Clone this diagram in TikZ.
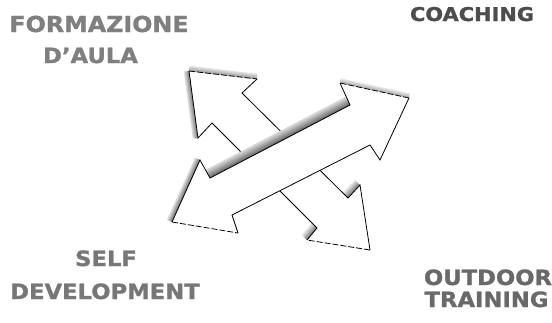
\documentclass[tikz,border=0pt]{standalone}
\usepackage{fontspec}
\setmainfont{DejaVu Sans}[BoldFeatures={FakeBold=1.2}]
\definecolor{lblA}{HTML}{7F7F7F}
\definecolor{lblB}{HTML}{4D4D4D}
\definecolor{lblC}{HTML}{777777}
\definecolor{lblD}{HTML}{696969}
% gradient band along edge P--Q (coordinate names), pushed out by (dx,dy); #5 = darkness at the edge, #6 = darkness outside
\newcommand{\gradband}[6]{%
  \foreach \stI in {0,...,7} {%
    \pgfmathsetmacro{\stA}{\stI/8}%
    \pgfmathsetmacro{\stB}{(\stI+1)/8+0.03}%
    \pgfmathsetmacro{\stC}{#5-(#5-#6)*\stI/7}%
    \fill[black!\stC] ([shift={(\stA*#3,\stA*#4)}]#1) -- ([shift={(\stA*#3,\stA*#4)}]#2)
      -- ([shift={(\stB*#3,\stB*#4)}]#2) -- ([shift={(\stB*#3,\stB*#4)}]#1) -- cycle;
  }%
}
\begin{document}
\begin{tikzpicture}[x=1pt,y=-1pt,
  solidedge/.style={draw=black, line width=0.8pt, line join=miter},
  dashedge/.style={draw=black, line width=0.8pt, dash pattern=on 6pt off 2pt},
  lbl/.style={inner sep=0pt, anchor=base, font=\bfseries\fontsize{21}{21}\selectfont}]
\useasboundingbox (0,0) rectangle (552,322);
% ---------- arrow A (back, NW-SE) ----------
\coordinate (aT1) at (189,71);
\coordinate (aB1) at (257,79);
\coordinate (aN1) at (242,93);
\coordinate (aN2) at (348,198);
\coordinate (aB2) at (360,185);
\coordinate (aT2) at (370,250);
\coordinate (aB3) at (307,240);
\coordinate (aN3) at (317,228);
\coordinate (aN4) at (212,123);
\coordinate (aB4) at (198,138);
\fill[white] (aT1) -- (aB1) -- (aN1) -- (aN2) -- (aB2) -- (aT2) -- (aB3) -- (aN3) -- (aN4) -- (aB4) -- cycle;
\gradband{aT1}{aB1}{0.5}{-5}{40}{12}
\gradband{aT1}{aB4}{-5}{0.7}{52}{15}
\gradband{aN2}{aB2}{-5}{-5}{52}{10}
\gradband{aN3}{aB3}{-5}{-5}{52}{10}
\draw[solidedge] (aB1) -- (aN1) -- (aN2) -- (aB2) -- (aT2);
\draw[dashedge] (aT2) -- (aB3);
\draw[solidedge] (aB3) -- (aN3) -- (aN4) -- (aB4) -- (aT1);
\draw[dashedge] (aT1) -- (aB1);
% ---------- arrow B (front, SW-NE) ----------
\coordinate (bT1) at (409,98);
\coordinate (bB1) at (380,160);
\coordinate (bN1) at (370,145);
\coordinate (bN2) at (232,215);
\coordinate (bB2) at (238,233);
\coordinate (bT2) at (172,222);
\coordinate (bB3) at (200,160);
\coordinate (bN3) at (210,178);
\coordinate (bN4) at (350,105);
\coordinate (bB4) at (340,83);
\fill[white] (bT1) -- (bB1) -- (bN1) -- (bN2) -- (bB2) -- (bT2) -- (bB3) -- (bN3) -- (bN4) -- (bB4) -- cycle;
\gradband{bN3}{bN4}{-4.2}{-8.0}{58}{16}
\gradband{bB3}{bT2}{-4.8}{-2.2}{55}{15}
\gradband{bB4}{bT1}{0.8}{-4.5}{35}{10}
\draw[dashedge] (bT1) -- (bB4);
\draw[solidedge] (bB4) -- (bN4) -- (bN3) -- (bB3) -- (bT2);
\draw[dashedge] (bT2) -- (bB2);
\draw[solidedge] (bB2) -- (bN2) -- (bN1) -- (bB1) -- (bT1);
% ---------- labels ----------
\node[lbl, text=lblA, font=\bfseries\fontsize{22}{22}\selectfont] (formaz) at (99,32) {\scalebox{1.08}[1]{FORMAZIONE}};
\node[lbl, text=lblA] (aula) at (90.5,63) {\scalebox{1.08}[1]{D’AULA}};
\node[lbl, text=lblB, font=\bfseries\fontsize{19}{19}\selectfont] (coach) at (472,21) {\scalebox{1.1}[1]{COACHING}};
\node[lbl, text=lblC] (self) at (106,266) {\scalebox{1.08}[1]{SELF}};
\node[lbl, text=lblC] (devel) at (105,299) {\scalebox{1.08}[1]{DEVELOPMENT}};
\node[lbl, text=lblD] (outd) at (488,285) {\scalebox{1.08}[1]{OUTDOOR}};
\node[lbl, text=lblD] (train) at (486.5,307) {\scalebox{1.08}[1]{TRAINING}};
\end{tikzpicture}
\end{document}
